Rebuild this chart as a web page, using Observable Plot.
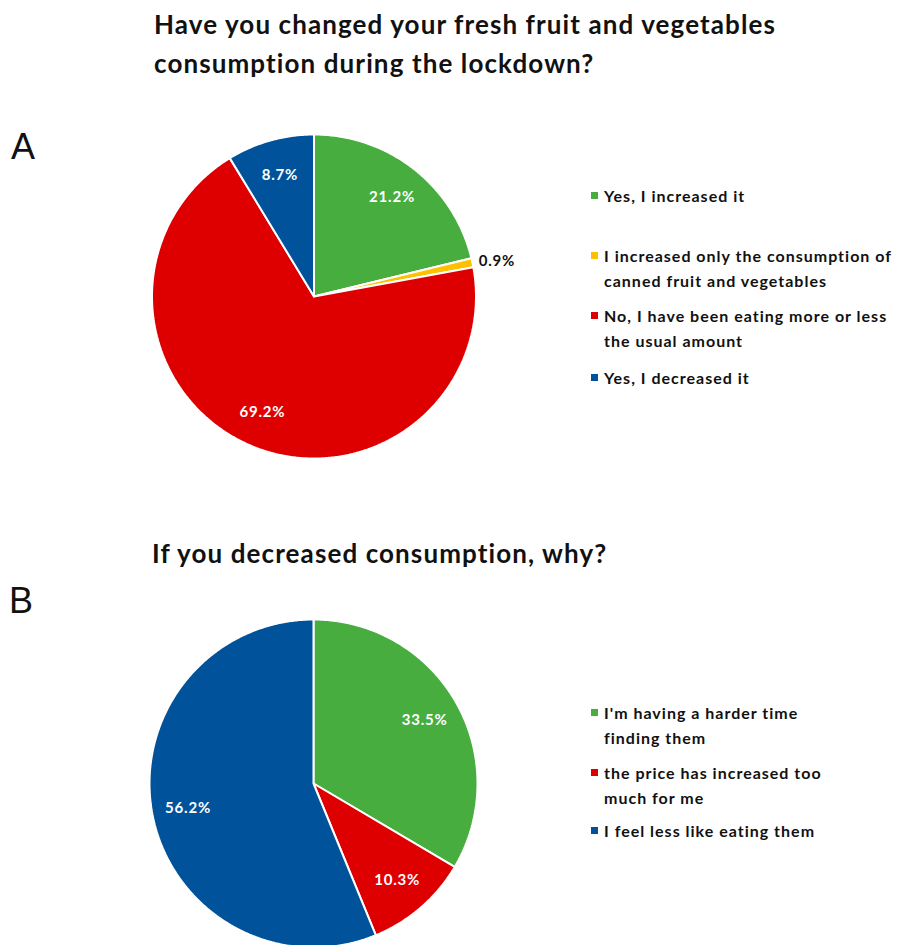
<!DOCTYPE html>
<html>
<head>
<meta charset="utf-8">
<script src="https://cdn.jsdelivr.net/npm/d3@7"></script>
<script src="https://cdn.jsdelivr.net/npm/@observablehq/plot@0.6"></script>
<style>
  html, body { margin: 0; padding: 0; background: #fff; }
  body { width: 899px; height: 945px; position: relative; overflow: hidden; font-family: Lato, "Open Sans", sans-serif; color: #111; }
  .abs { position: absolute; }
  .title { font-weight: 700; font-size: 26px; line-height: 39px; white-space: nowrap; letter-spacing: 1.1px; }
  .letter { font-family: "Liberation Sans", Arial, sans-serif; font-size: 36px; line-height: 1; font-weight: 400; }
  .legend { font-weight: 700; font-size: 16px; line-height: 25px; white-space: nowrap; letter-spacing: 1px; }
  .item { position: absolute; left: 0; padding-left: 13px; }
  .sw { position: absolute; left: 0; top: 9px; width: 7px; height: 7px; }
  .pie text { letter-spacing: 0.8px; }
</style>
</head>
<body>
<script>
// ---------- data ----------
const titleA = ["Have you changed your fresh fruit and vegetables", "consumption during the lockdown?"];
const categoriesA = [
  "Yes, I increased it",
  "I increased only the consumption of canned fruit and vegetables",
  "No, I have been eating more or less the usual amount",
  "Yes, I decreased it"
];
const legendLinesA = [
  ["Yes, I increased it"],
  ["I increased only the consumption of", "canned fruit and vegetables"],
  ["No, I have been eating more or less", "the usual amount"],
  ["Yes, I decreased it"]
];
const valuesA = [21.2, 0.9, 69.2, 8.7];
const colorsA = ["#47ad3f", "#ffc000", "#de0000", "#00539b"];

const titleB = ["If you decreased consumption, why?"];
const categoriesB = [
  "I'm having a harder time finding them",
  "the price has increased too much for me",
  "I feel less like eating them"
];
const legendLinesB = [
  ["I'm having a harder time", "finding them"],
  ["the price has increased too", "much for me"],
  ["I feel less like eating them"]
];
const valuesB = [33.5, 10.3, 56.2];
const colorsB = ["#47ad3f", "#de0000", "#00539b"];

// ---------- helpers ----------
function slicePoints(cats, vals) {
  const total = d3.sum(vals);
  const pts = [];
  let acc = 0;
  cats.forEach((c, i) => {
    const a0 = acc / total * 2 * Math.PI;
    acc += vals[i];
    const a1 = acc / total * 2 * Math.PI;
    const n = Math.max(2, Math.ceil((a1 - a0) / (Math.PI / 360)));
    pts.push({cat: c, x: 0, y: 0});
    for (let k = 0; k <= n; k++) {
      const a = a0 + (a1 - a0) * k / n;
      pts.push({cat: c, x: Math.sin(a), y: Math.cos(a)});
    }
    pts.push({cat: c, x: 0, y: 0});
  });
  return pts;
}
function sliceLabels(cats, vals) {
  const total = d3.sum(vals);
  let acc = 0;
  return cats.map((c, i) => {
    const mid = (acc + vals[i] / 2) / total * 2 * Math.PI;
    acc += vals[i];
    const small = vals[i] / total < 0.03;
    const r = small ? 1.04 : 0.78;
    return {cat: c, label: vals[i].toFixed(1) + "%", x: r * Math.sin(mid), y: r * Math.cos(mid), small};
  });
}
function pie(cats, vals, colors, cx, R) {
  const W = 899, pad = 4;
  const labels = sliceLabels(cats, vals);
  return Plot.plot({
    width: W,
    height: 2 * R + 2 * pad,
    marginLeft: cx - R,
    marginRight: W - cx - R,
    marginTop: pad,
    marginBottom: pad,
    className: "pie",
    x: {domain: [-1, 1], axis: null},
    y: {domain: [-1, 1], axis: null},
    color: {domain: cats, range: colors},
    style: {fontFamily: "Lato, sans-serif", background: "transparent", overflow: "visible"},
    marks: [
      Plot.line(slicePoints(cats, vals), {x: "x", y: "y", z: "cat", fill: "cat", stroke: "white", strokeWidth: 2, strokeLinejoin: "miter"}),
      Plot.text(labels.filter(d => !d.small), {x: "x", y: "y", text: "label", fill: "white", fontSize: 15, fontWeight: "bold"}),
      Plot.text(labels.filter(d => d.small), {x: "x", y: "y", text: "label", fill: "#111", fontSize: 15, fontWeight: "bold", textAnchor: "start"})
    ]
  });
}
function addDiv(cls, left, top, html) {
  const d = document.createElement("div");
  d.className = "abs " + cls;
  d.style.left = left + "px";
  d.style.top = top + "px";
  d.innerHTML = html;
  document.body.appendChild(d);
  return d;
}
function legend(left, tops, lines, colors) {
  const box = addDiv("legend", left, 0, "");
  lines.forEach((ls, i) => {
    const it = document.createElement("div");
    it.className = "item";
    it.style.top = tops[i] + "px";
    it.innerHTML = `<span class="sw" style="background:${colors[i]}"></span>` + ls.join("<br>");
    box.appendChild(it);
  });
}

// ---------- section A ----------
addDiv("title", 154, 5, titleA.join("<br>"));
addDiv("letter", 11, 129, "A");
const RA = 162, cxA = 313.5, cyA = 296;
const svgA = pie(categoriesA, valuesA, colorsA, cxA, RA);
svgA.style.position = "absolute"; svgA.style.left = "0px"; svgA.style.top = (cyA - RA - 4) + "px";
document.body.appendChild(svgA);
legend(591, [183, 243, 303, 365], legendLinesA, colorsA);

// ---------- section B ----------
addDiv("title", 152, 534, titleB.join("<br>"));
addDiv("letter", 9, 583, "B");
const RB = 164, cxB = 313, cyB = 783;
const svgB = pie(categoriesB, valuesB, colorsB, cxB, RB);
svgB.style.position = "absolute"; svgB.style.left = "0px"; svgB.style.top = (cyB - RB - 4) + "px";
document.body.appendChild(svgB);
legend(591, [700, 760, 818], legendLinesB, colorsB);
</script>
</body>
</html>
